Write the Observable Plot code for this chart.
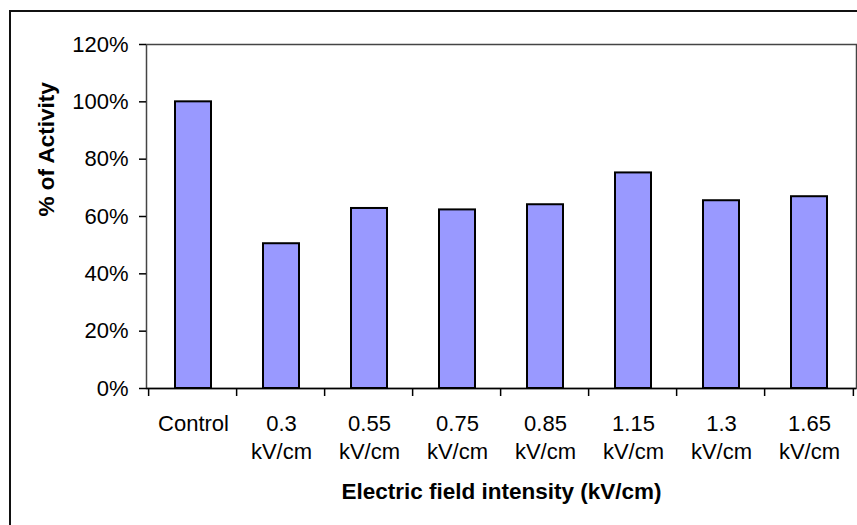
<!DOCTYPE html>
<html>
<head>
<meta charset="utf-8">
<script src="https://cdn.jsdelivr.net/npm/d3@7"></script>
<script src="https://cdn.jsdelivr.net/npm/@observablehq/plot@0.6"></script>
<style>
  html, body { margin: 0; padding: 0; background: #fff; }
  #wrap { position: relative; width: 857px; height: 525px; overflow: hidden; background: #fff; }
  #border { position: absolute; left: 9px; top: 10px; width: 900px; height: 600px; border: 2px solid #111; box-sizing: border-box; pointer-events: none; }
  #chart { position: absolute; left: 0; top: 0; }
  svg { font-family: "Liberation Sans", Arial, sans-serif; }
</style>
</head>
<body>
<div id="wrap"><div id="border"></div><div id="chart"></div></div>
<script>
const categories = ["Control", "0.3 kV/cm", "0.55 kV/cm", "0.75 kV/cm", "0.85 kV/cm", "1.15 kV/cm", "1.3 kV/cm", "1.65 kV/cm"];
const activity = [1.00, 0.505, 0.628, 0.623, 0.641, 0.752, 0.655, 0.669];
const yTicks = [0, 0.2, 0.4, 0.6, 0.8, 1.0, 1.2];
const xTitle = "Electric field intensity (kV/cm)";
const yTitle = "% of Activity";

const data = categories.map((c, i) => ({cat: c, value: activity[i]}));

// tick marks at category boundaries (derived from the band scale)
function boundaryTicks(index, scales, values, dims) {
  const x = scales.x;
  const n = categories.length;
  const bw = typeof x.bandwidth === "function" ? x.bandwidth() : x.bandwidth;
  const step = (dims.width - dims.marginLeft - dims.marginRight) / n;
  const y0 = scales.y(0);
  const g = d3.create("svg:g").attr("stroke", "#000").attr("stroke-width", 1.5);
  const xs = categories.map(c => x(c) + bw / 2 - step / 2);
  xs.push(x(categories[n - 1]) + bw / 2 + step / 2);
  for (const xv of xs) {
    g.append("line").attr("x1", xv).attr("x2", xv).attr("y1", y0).attr("y2", y0 + 8);
  }
  return g.node();
}

const chart = Plot.plot({
  width: 857,
  height: 525,
  marginLeft: 146,
  marginRight: 1,
  marginTop: 44,
  marginBottom: 137,
  style: {fontFamily: "'Liberation Sans', Arial, sans-serif", background: "transparent"},
  x: {domain: categories, paddingInner: 0.59, paddingOuter: 0.295, label: null},
  y: {domain: [0, 1.2], label: null},
  marks: [
    Plot.frame({stroke: "#444", strokeWidth: 1.5}),
    Plot.barY(data, {x: "cat", y: "value", fill: "#9999ff", stroke: "#000", strokeWidth: 2}),
    Plot.axisY({ticks: yTicks, tickFormat: d => Math.round(d * 100) + "%", tickSize: 7, tickPadding: 11, fontSize: 22, stroke: "#000", strokeWidth: 1.5, fill: "#000", label: null}),
    Plot.axisX({tickSize: 0, tickPadding: 22, fontSize: 22, lineHeight: 1.3, fill: "#000", tickFormat: d => d.replace(" ", "\n"), label: null}),
    Plot.ruleY([0], {stroke: "#000", strokeWidth: 1.5}),
    boundaryTicks,
    Plot.text([xTitle], {frameAnchor: "bottom", dy: 103, text: d => d, fontSize: 22.5, fontWeight: "bold", lineAnchor: "middle", fill: "#000"}),
    Plot.text([yTitle], {frameAnchor: "left", dx: -100, rotate: -90, text: d => d, fontSize: 22.5, fontWeight: "bold", lineAnchor: "middle", fill: "#000"})
  ]
});
document.getElementById("chart").appendChild(chart);
</script>
</body>
</html>
